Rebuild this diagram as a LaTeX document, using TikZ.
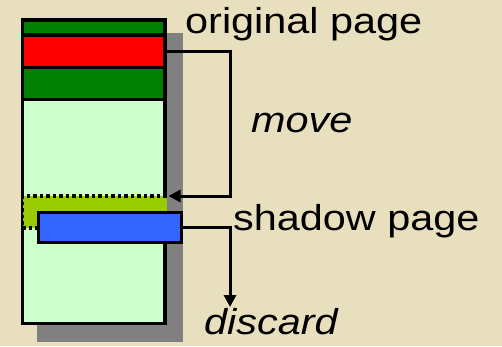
\documentclass[tikz,border=0pt]{standalone}
\usepackage{fontspec}
\setmainfont{Liberation Sans}
\newfontfamily\labelfont[FakeStretch=1.15]{Liberation Sans}
\usetikzlibrary{arrows.meta}
\definecolor{paper}{RGB}{231,223,190}
\definecolor{pagegreen}{RGB}{0,128,0}
\definecolor{pagered}{RGB}{255,0,0}
\definecolor{pagebody}{RGB}{204,255,204}
\definecolor{shadowgray}{RGB}{128,128,128}
\definecolor{shadowblue}{RGB}{51,102,255}
\definecolor{oldgreen}{RGB}{153,204,0}
\tikzset{
  box/.style={draw=black, line width=3.8pt, inner sep=0pt, outer sep=0pt, anchor=north west},
  flow/.style={draw=black, line width=3pt, -{Triangle[length=12pt,width=12pt]}},
  label/.style={inner sep=0pt, anchor=base west, font=\labelfont\fontsize{36}{40}\selectfont},
}
\begin{document}
\begin{tikzpicture}[x=1pt, y=-1pt]
  \fill[paper] (0,0) rectangle (502,346);
  \useasboundingbox (0,0) rectangle (502,346);

  % drop shadow behind the page
  \fill[shadowgray] (37,33) rectangle (183,342);

  % page body and its coloured records
  \node[box, fill=pagebody, minimum width=142.5pt, minimum height=303.5pt] (page) at (22.5,20) {};
  \node[box, fill=pagegreen, minimum width=142.5pt, minimum height=15pt] (rec1) at (22.5,20) {};
  \node[box, fill=pagered, minimum width=142.5pt, minimum height=32.5pt] (rec2) at (22.5,35) {};
  \node[box, fill=pagegreen, minimum width=142.5pt, minimum height=32pt] (rec3) at (22.5,67.5) {};

  % old position of the record (dotted outline)
  \node[fill=oldgreen, inner sep=0pt, outer sep=0pt, anchor=north west,
        minimum width=144pt, minimum height=32pt] (old) at (22.5,196) {};
  \draw[line width=3.5pt, dash pattern=on 3.5pt off 3pt]
    (old.north east) -- (old.north west) -- (old.south west) -- ++(16,0);

  % shadow copy of the record
  \node[box, fill=shadowblue, minimum width=143pt, minimum height=30pt] (shadow) at (38.5,212.5) {};

  % labels
  \node[label] (orig) at (185,33) {original page};
  \node[label, font=\labelfont\itshape\fontsize{36}{40}\selectfont] (move) at (251,132) {move};
  \node[label] (shadowlbl) at (233,230) {shadow page};
  \node[label, font=\labelfont\itshape\fontsize{36}{40}\selectfont] (discard) at (204,334) {discard};

  % routing columns for the connectors
  \coordinate (movecol) at (230,52);
  \coordinate (dropend) at (230,307);

  \draw[flow] (rec2.east) -- (rec2.east -| movecol) |- ([xshift=2pt]old.north east);
  \draw[flow] (shadow.east) -| (dropend);
\end{tikzpicture}
\end{document}
